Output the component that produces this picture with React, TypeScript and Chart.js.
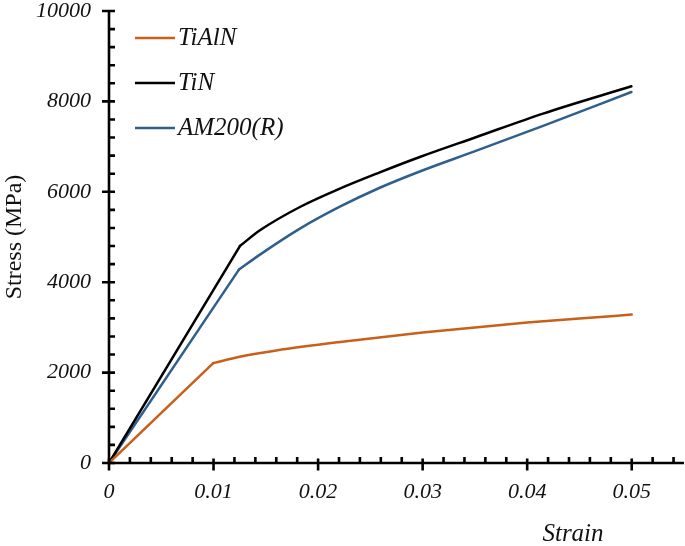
import React, { useEffect, useRef } from 'react';
import { Chart, registerables } from 'chart.js';

Chart.register(...registerables);

const seriesNames = ['TiAlN', 'TiN', 'AM200(R)'];
const seriesColors = ['#C8601A', '#000000', '#2F5F8C'];

// index of the yield point (end of the straight elastic part) in each series
const yieldIndex = [1, 1, 1];

const tialnStrain = [0, 0.00997, 0.0125, 0.016, 0.0221, 0.03, 0.035, 0.04, 0.045, 0.05];
const tialnStress = [0, 2210, 2350, 2490, 2677, 2885, 3000, 3106, 3195, 3283];

const tinStrain = [0, 0.01252, 0.01444, 0.01826, 0.02208, 0.0259, 0.02973, 0.03515, 0.04152, 0.04997];
const tinStress = [0, 4800, 5148, 5664, 6071, 6430, 6770, 7212, 7730, 8334];

const amStrain = [0, 0.01243, 0.01444, 0.01826, 0.02208, 0.0259, 0.02973, 0.03515, 0.04152, 0.04997];
const amStress = [0, 4279, 4610, 5185, 5670, 6090, 6450, 6910, 7460, 8208];

const xMajorTicks = [0, 0.01, 0.02, 0.03, 0.04, 0.05];
const xTickLabels = ['0', '0.01', '0.02', '0.03', '0.04', '0.05'];
const yMajorTicks = [0, 2000, 4000, 6000, 8000, 10000];
const yTickLabels = ['0', '2000', '4000', '6000', '8000', '10000'];
const xMinorStep = 0.002;
const yMinorStep = 400;
const xMin = 0;
const xMax = 0.055;
const yMin = 0;
const yMax = 10000;
const xTitle = 'Strain';
const yTitle = 'Stress (MPa)';

const SERIF = "'Liberation Serif', 'Times New Roman', Times, serif";

function toPoints(xs: number[], ys: number[]) {
  return xs.map((x, i) => ({ x, y: ys[i] }));
}

const decoPlugin = {
  id: 'decoPlugin',
  afterDraw(chart: any) {
    const ctx = chart.ctx as CanvasRenderingContext2D;
    const xs = chart.scales.x;
    const ys = chart.scales.y;
    const x0 = xs.getPixelForValue(xMin);
    const y0 = ys.getPixelForValue(yMin);
    const xEnd = xs.getPixelForValue(xMax);
    const yTop = ys.getPixelForValue(yMax);
    ctx.save();
    ctx.strokeStyle = '#000';
    ctx.lineWidth = 2.6;
    ctx.lineCap = 'butt';
    ctx.beginPath();
    ctx.moveTo(x0, yTop);
    ctx.lineTo(x0, y0 + 1.3);
    ctx.moveTo(x0 - 1.3, y0);
    ctx.lineTo(xEnd, y0);
    ctx.stroke();
    ctx.beginPath();
    for (let v = yMin; v <= yMax + 1e-6; v += yMinorStep) {
      const p = ys.getPixelForValue(v);
      const isMajor = yMajorTicks.some((t) => Math.abs(t - v) < 1e-6);
      if (isMajor) {
        ctx.moveTo(x0 - 7, p);
        ctx.lineTo(x0 + 6, p);
      } else {
        ctx.moveTo(x0, p);
        ctx.lineTo(x0 + 6, p);
      }
    }
    for (let i = 0; xMin + i * xMinorStep <= xMax + 1e-9; i++) {
      const v = xMin + i * xMinorStep;
      const p = xs.getPixelForValue(v);
      const isMajor = xMajorTicks.some((t) => Math.abs(t - v) < 1e-9);
      if (isMajor) {
        ctx.moveTo(p, y0 - 4.5);
        ctx.lineTo(p, y0 + 7.5);
      } else {
        ctx.moveTo(p, y0 - 6);
        ctx.lineTo(p, y0);
      }
    }
    ctx.stroke();

    ctx.fillStyle = '#111';
    ctx.font = `italic 25px ${SERIF}`;
    ctx.textAlign = 'center';
    ctx.textBaseline = 'middle';
    ctx.fillText(xTitle, chart.chartArea.right - 111, chart.chartArea.bottom + 71);

    const legX = chart.chartArea.left + 26;
    const legY = chart.chartArea.top + 27;
    const legGap = 45;
    const legendSets = chart.data.datasets.filter((ds: any) => ds.inLegend);
    legendSets.forEach((ds: any, i: number) => {
      const yy = legY + i * legGap;
      ctx.strokeStyle = ds.borderColor;
      ctx.lineWidth = 2.5;
      ctx.beginPath();
      ctx.moveTo(legX, yy);
      ctx.lineTo(legX + 40, yy);
      ctx.stroke();
      ctx.fillStyle = '#111';
      ctx.textAlign = 'left';
      ctx.textBaseline = 'middle';
      ctx.font = `italic 25px ${SERIF}`;
      ctx.fillText(ds.label, legX + 43, yy);
    });
    ctx.restore();
  },
};

export default function App() {
  const canvasRef = useRef<HTMLCanvasElement | null>(null);

  useEffect(() => {
    document.body.style.margin = '0';
    const canvas = canvasRef.current;
    if (!canvas) return;
    let chart: Chart | null = null;
    let cancelled = false;
    const series = [
      { xs: tialnStrain, ys: tialnStress },
      { xs: tinStrain, ys: tinStress },
      { xs: amStrain, ys: amStress },
    ];
    const datasets: any[] = [];
    series.forEach((s, i) => {
      const k = yieldIndex[i];
      const common = {
        label: seriesNames[i],
        borderColor: seriesColors[i],
        backgroundColor: seriesColors[i],
        showLine: true,
        borderWidth: 2.5,
        pointRadius: 0,
        pointHoverRadius: 0,
        fill: false,
        borderCapStyle: 'round',
        borderJoinStyle: 'round',
      };
      datasets.push({
        ...common,
        inLegend: true,
        data: toPoints(s.xs.slice(k), s.ys.slice(k)),
        cubicInterpolationMode: 'monotone',
      });
      datasets.push({
        ...common,
        inLegend: false,
        data: toPoints(s.xs.slice(0, k + 1), s.ys.slice(0, k + 1)),
        tension: 0,
      });
    });
    const build = () => {
      if (cancelled || chart) return;
      chart = new Chart(canvas, {
        type: 'scatter',
        data: { datasets },
        options: {
          animation: false,
          responsive: true,
          maintainAspectRatio: false,
          layout: { padding: { top: 11, right: 1, left: 0, bottom: 0 } },
          plugins: {
            legend: { display: false },
            tooltip: { enabled: false },
          },
          scales: {
            x: {
              type: 'linear',
              min: xMin,
              max: xMax,
              grid: { display: false, drawTicks: false },
              border: { display: false },
              afterBuildTicks: (scale: any) => {
                scale.ticks = xMajorTicks.map((v) => ({ value: v }));
              },
              afterFit: (scale: any) => {
                scale.height = 83;
                scale.paddingLeft = 0;
                scale.paddingRight = 0;
              },
              ticks: {
                padding: 16,
                color: '#111',
                font: { family: SERIF, size: 22, style: 'italic' },
                maxRotation: 0,
                callback: (v: any) => {
                  const i = xMajorTicks.findIndex((t) => Math.abs(t - Number(v)) < 1e-9);
                  return i >= 0 ? xTickLabels[i] : '';
                },
              },
            },
            y: {
              type: 'linear',
              min: yMin,
              max: yMax,
              grid: { display: false, drawTicks: false },
              border: { display: false },
              afterBuildTicks: (scale: any) => {
                scale.ticks = yMajorTicks.map((v) => ({ value: v }));
              },
              afterFit: (scale: any) => {
                scale.width = 109;
                scale.paddingTop = 0;
                scale.paddingBottom = 0;
              },
              title: {
                display: true,
                text: yTitle,
                color: '#111',
                padding: 0,
                font: { family: SERIF, size: 24 },
              },
              ticks: {
                padding: 18,
                color: '#111',
                font: { family: SERIF, size: 22, style: 'italic' },
                callback: (v: any) => {
                  const i = yMajorTicks.findIndex((t) => Math.abs(t - Number(v)) < 1e-6);
                  return i >= 0 ? yTickLabels[i] : '';
                },
              },
            },
          },
        },
        plugins: [decoPlugin],
      });
    };
    const fonts = (document as any).fonts;
    if (fonts && fonts.load) {
      Promise.all([
        fonts.load("italic 22px 'Liberation Serif'"),
        fonts.load("22px 'Liberation Serif'"),
      ])
        .catch(() => null)
        .then(() => build());
      setTimeout(build, 300);
    } else {
      build();
    }
    return () => {
      cancelled = true;
      if (chart) chart.destroy();
    };
  }, []);

  return (
    <div style={{ position: 'absolute', left: 0, top: 0, width: 685, height: 546, background: '#fff' }}>
      <canvas ref={canvasRef} />
    </div>
  );
}
